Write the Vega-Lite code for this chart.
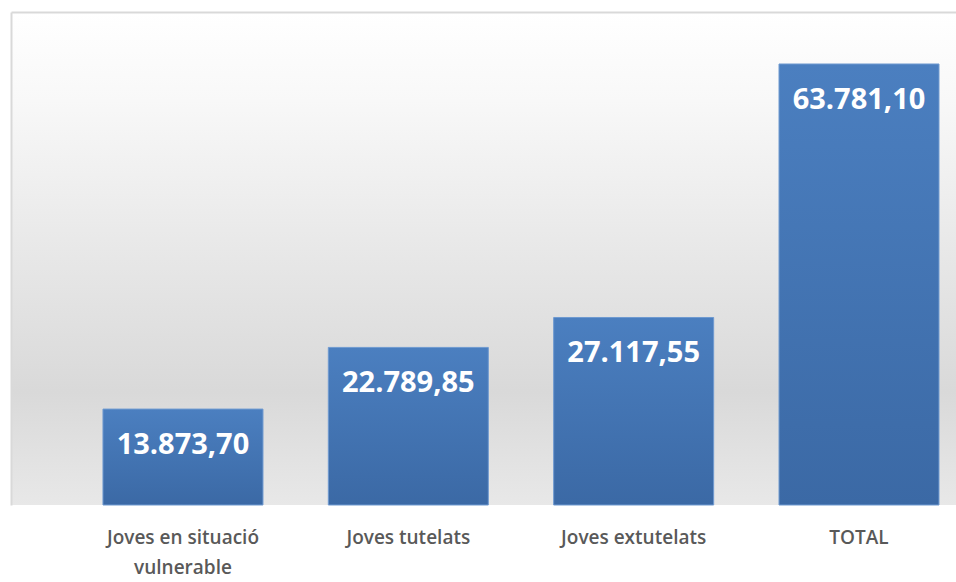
{
  "$schema": "https://vega.github.io/schema/vega-lite/v6.json",
  "width": 945,
  "height": 493,
  "padding": {"left": 11, "top": 12, "right": 0, "bottom": 77},
  "autosize": {"type": "none"},
  "background": "white",
  "view": {
    "stroke": null,
    "fill": {
      "gradient": "linear", "x1": 0, "y1": 0, "x2": 0, "y2": 1,
      "stops": [
        {"offset": 0, "color": "#ffffff"},
        {"offset": 0.18, "color": "#f8f8f8"},
        {"offset": 0.48, "color": "#e8e8e8"},
        {"offset": 0.77, "color": "#d9d9d9"},
        {"offset": 1, "color": "#e8e8e8"}
      ]
    }
  },
  "config": {
    "locale": {"number": {"decimal": ",", "thousands": ".", "grouping": [3], "currency": ["", " €"]}}
  },
  "data": {
    "values": [
      {"categoria": "Joves en situació vulnerable", "import": 13873.70},
      {"categoria": "Joves tutelats", "import": 22789.85},
      {"categoria": "Joves extutelats", "import": 27117.55},
      {"categoria": "TOTAL", "import": 63781.10}
    ]
  },
  "encoding": {
    "y": {
      "field": "import", "type": "quantitative",
      "scale": {"domain": [0, 71300], "nice": false},
      "axis": {"title": null, "labels": false, "ticks": false, "grid": false, "domain": true, "domainColor": "#d9d9d9", "domainWidth": 2}
    }
  },
  "resolve": {"axis": {"x": "independent"}},
  "layer": [
    {
      "mark": {
        "type": "bar",
        "color": {
          "gradient": "linear", "x1": 0, "y1": 0, "x2": 0, "y2": 1,
          "stops": [
            {"offset": 0, "color": "#4b7fc0"},
            {"offset": 1, "color": "#3b69a5"}
          ]
        },
        "stroke": "#6f9ad0",
        "strokeWidth": 1
      },
      "encoding": {
        "x": {
          "field": "categoria", "type": "nominal", "sort": null,
          "scale": {"paddingInner": 0.29, "paddingOuter": 0.2418, "align": 0.844},
          "axis": {
            "orient": "bottom",
            "title": null, "domain": false, "ticks": false, "labelAngle": 0,
            "labelPadding": 23, "labelFont": "Open Sans", "labelFontWeight": 600,
            "labelFontSize": 19, "labelColor": "#595959", "labelLineHeight": 30,
            "labelBaseline": "top",
            "labelExpr": "length(datum.label) > 20 ? ['Joves en situació', 'vulnerable'] : datum.label"
          }
        }
      }
    },
    {
      "mark": {"type": "text", "baseline": "middle", "dy": 36, "font": "Open Sans", "fontWeight": "bold", "fontSize": 29, "color": "white"},
      "encoding": {
        "text": {"field": "import", "type": "quantitative", "format": ",.2f"},
        "x": {
          "field": "categoria", "type": "nominal", "sort": null,
          "axis": {"orient": "top", "title": null, "labels": false, "ticks": false, "domain": true, "domainColor": "#d9d9d9", "domainWidth": 2}
        }
      }
    }
  ]
}
